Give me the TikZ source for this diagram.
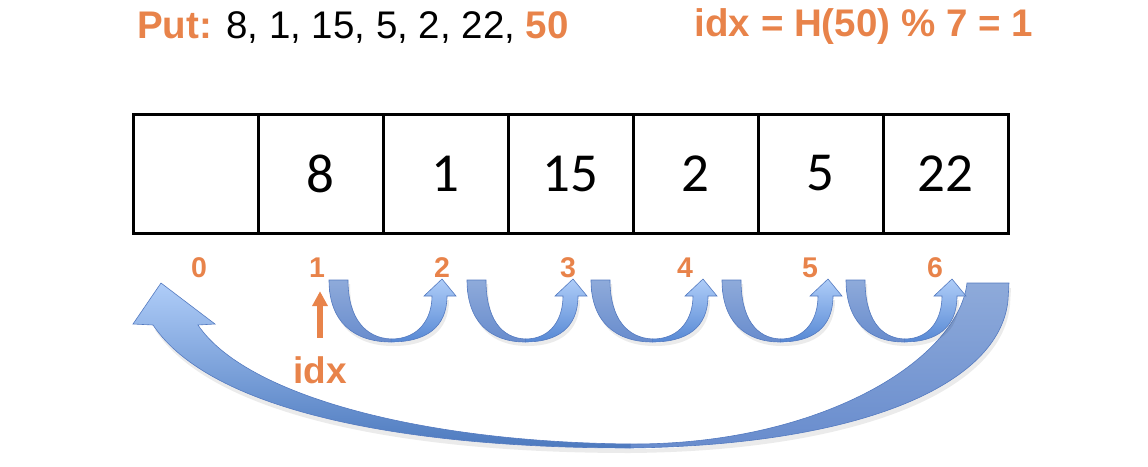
\documentclass[tikz,border=0pt]{standalone}
\usepackage{fontspec}
\setmainfont{Liberation Sans}
\newfontfamily\cellfont{Carlito}
\usetikzlibrary{arrows.meta}
\definecolor{accent}{RGB}{232,131,74}
\definecolor{backtop}{RGB}{142,170,218}
\definecolor{backbot}{RGB}{104,140,205}
\definecolor{fronttop}{RGB}{175,205,248}
\definecolor{frontbot}{RGB}{86,136,212}
\definecolor{blueedge}{RGB}{84,122,192}
\tikzset{
  cell/.style={draw, line width=3pt, minimum width=125pt, minimum height=119pt, inner sep=0pt,
    font=\cellfont\fontsize{55}{60}\selectfont},
  ilabel/.style={anchor=base, inner sep=0pt, text=accent, font=\bfseries\fontsize{28.5}{32}\selectfont},
  headline/.style={inner sep=0pt, font=\fontsize{38.5}{44}\selectfont},
  backpart/.style={top color=backtop, bottom color=backbot, draw=blueedge, line width=0.6pt},
  frontpart/.style={top color=fronttop, bottom color=frontbot, draw=blueedge, line width=0.6pt},
  softshadow/.style={fill=black, opacity=0.08},
  idxarrow/.style={draw=accent, line width=6pt, -{Triangle[width=15pt,length=15pt]}}
}
\newcommand\myuturn[2]{%
  \fill[softshadow] ({#1+2},284) .. controls ({#1+2},326) and ({#1+2+0.22*(#2-#1)},346) .. ({#1+2+0.55*(#2-#1)},346)
     .. controls ({#1+2+0.85*(#2-#1)},346) and ({#2+7},332) .. ({#2+7},300) -- ({#2-8},300)
     .. controls ({#2-8},322) and ({#1+0.8*(#2-#1)},343) .. ({#1+2+0.55*(#2-#1)},343)
     .. controls ({#1+0.32*(#2-#1)},342) and ({#1+21},322) .. ({#1+21},284) -- cycle;
  \shade[backpart] (#1,280) .. controls (#1,322) and ({#1+0.22*(#2-#1)},342) .. ({#1+0.55*(#2-#1)},342)
     -- ({#1+0.55*(#2-#1)},339) .. controls ({#1+0.32*(#2-#1)},338) and ({#1+19},318) .. ({#1+19},280) -- cycle;
  \shade[frontpart] ({#1+0.55*(#2-#1)},342) .. controls ({#1+0.85*(#2-#1)},342) and ({#2+5},328) .. ({#2+5},296)
     -- ({#2+14},296) -- (#2,279) -- ({#2-18},296) -- ({#2-10},296)
     .. controls ({#2-10},318) and ({#1+0.8*(#2-#1)},339) .. ({#1+0.55*(#2-#1)},339) -- cycle;
}
\begin{document}
\begin{tikzpicture}[x=1pt, y=-1pt]
\useasboundingbox (0,0) rectangle (1148,466);
% titles
\node[headline, anchor=base west] (put) at (137,38)
  {\textcolor{accent}{\bfseries Put:} 8, 1, 15, 5, 2, 22, \textcolor{accent}{\bfseries 50}};
\node[headline, anchor=base east, text=accent] (formula) at (1033,36)
  {\bfseries idx = H(50) \% 7 = 1};
% cells
\foreach \v [count=\i from 0] in {{},8,1,15,2,5,22}
  \node[cell] (c\i) at ({195.5+125*\i},173.5) {\v};
% index labels
\node[ilabel] (i0) at (199,277) {0};
\node[ilabel] (i1) at (317,277) {1};
\node[ilabel] (i2) at (442,277) {2};
\node[ilabel] (i3) at (568,277) {3};
\node[ilabel] (i4) at (685,277) {4};
\node[ilabel] (i5) at (810,277) {5};
\node[ilabel] (i6) at (935,277) {6};
% big wrap-around arrow
\fill[softshadow] (970,288) -- (1011,288) -- (1010,305) .. controls (1002,390) and (860,451) .. (630,453)
   .. controls (400,453) and (212,415) .. (155,330) -- (200,330)
   .. controls (247,400) and (420,447) .. (630,449)
   .. controls (822,450) and (961,365) .. (970,288) -- cycle;
\shade[backpart] (967,283) -- (1009,283) -- (1008,300) .. controls (1000,385) and (860,445) .. (630,448)
   -- (630,444) .. controls (820,445) and (958,360) .. (967,283) -- cycle;
\shade[frontpart, top color=fronttop, bottom color=frontbot!90!black] (630,448) .. controls (400,448) and (210,410) .. (153,325)
   -- (133,324) -- (161,283) -- (215,324) -- (198,325)
   .. controls (245,395) and (420,442) .. (630,444) -- cycle;
% u-turn arrows
\myuturn{329}{442}
\myuturn{467}{573}
\myuturn{591}{703}
\myuturn{722}{828}
\myuturn{846}{952}
% idx pointer
\node[anchor=base, inner sep=0pt, text=accent, font=\bfseries\fontsize{37}{40}\selectfont] (idx) at (320,383) {idx};
\draw[idxarrow] ([yshift=18pt]idx.north) -- ([yshift=-14pt]idx.north |- i1.south);
\end{tikzpicture}
\end{document}
